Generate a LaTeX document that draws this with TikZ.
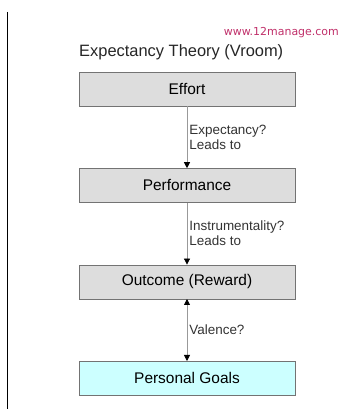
\documentclass[tikz,border=0pt]{standalone}
\usepackage{fontspec}
\setmainfont{Liberation Sans}
\newfontfamily\webfont{DejaVu Sans}
\usetikzlibrary{positioning,arrows.meta}
\definecolor{boxgrey}{HTML}{DDDDDD}
\definecolor{goalcyan}{HTML}{CCFFFF}
\definecolor{webred}{HTML}{C0306A}
\tikzset{
  stage/.style={draw=black!55, fill=boxgrey, minimum width=216bp, minimum height=34bp,
    inner sep=0pt, font=\fontsize{15.5}{18}\selectfont},
  link/.style={draw=black!40, line width=0.8bp},
  linklabel/.style={right, align=left, inner sep=2bp, text=black!80,
    font=\fontsize{13.5}{15}\selectfont}
}
\begin{document}
\begin{tikzpicture}[x=1bp, y=1bp, >={Triangle[black, width=6bp, length=6bp]}]
  \useasboundingbox (0,0) rectangle (350,409);
  \draw[line width=1bp] (7,397) -- (7,0);
  \node (effort) [stage] at (187,320) {Effort};
  \node (perf) [stage, below=62bp of effort] {Performance};
  \node (outcome) [stage, below=62bp of perf] {Outcome (Reward)};
  \node (goals) [stage, fill=goalcyan, below=62bp of outcome] {Personal Goals};
  \node (title) [anchor=west, inner sep=0pt, text=black!85, font=\fontsize{16.5}{20}\selectfont] at (79,357) {Expectancy Theory (Vroom)};
  \node (web) [anchor=east, inner sep=0pt, text=webred, font=\webfont\fontsize{11}{13}\selectfont] at (339,376) {www.12manage.com};
  \draw[link, ->] (effort) to node[linklabel] {Expectancy?\\Leads to} (perf);
  \draw[link, ->] (perf) to node[linklabel] {Instrumentality?\\Leads to} (outcome);
  \draw[link, <->] (outcome) to node[linklabel] {Valence?} (goals);
\end{tikzpicture}
\end{document}
